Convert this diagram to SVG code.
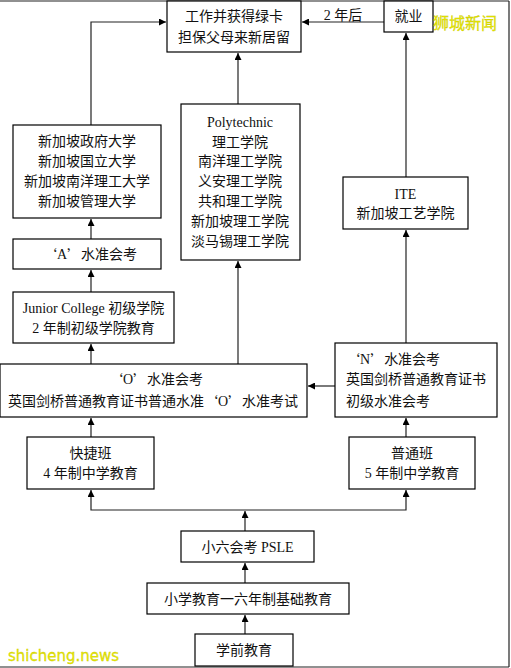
<svg xmlns="http://www.w3.org/2000/svg" width="511" height="668" viewBox="0 0 511 668">
<style>
.box{fill:#fff;stroke:#000;stroke-width:1.2}
.t{font-family:"Liberation Serif","Noto Sans CJK SC",serif;font-size:14px;fill:#111;text-anchor:middle;dominant-baseline:central}
.l{text-anchor:start}
.q{font-family:"Noto Sans CJK SC","Liberation Serif",sans-serif}
.c{fill:none;stroke:#222;stroke-width:1.2}
.wm{font-family:"DejaVu Sans","Noto Sans CJK SC",sans-serif;fill:#e8e800;stroke:#c8c800;stroke-width:0.3}
</style>
<defs>
<marker id="ah" viewBox="0 0 10 10" refX="10" refY="5" markerWidth="7" markerHeight="7" orient="auto" markerUnits="userSpaceOnUse">
<path d="M0,0 L10,5 L0,10 z" fill="#000"/>
</marker>
</defs>
<rect x="0" y="0" width="511" height="668" fill="#fff"/>
<g id="frame" class="c">
<line x1="0" y1="1" x2="509" y2="1"/>
<line x1="509" y1="1" x2="509" y2="667"/>
<line x1="0" y1="667" x2="509" y2="667"/>
</g>
<g id="connectors" class="c" marker-end="url(#ah)">
<path d="M384,22 L302,22"/>
<path d="M91,125 L91,22 L166,22"/>
<path d="M238,104 L238,53"/>
<path d="M406,177 L406,33"/>
<path d="M91,239 L91,219"/>
<path d="M91,292 L91,270"/>
<path d="M91,364 L91,344"/>
<path d="M238,364 L238,261"/>
<path d="M406,343 L406,230"/>
<path d="M335,386 L308,386"/>
<path d="M91,437 L91,418"/>
<path d="M406,437 L406,418"/>
<path d="M245,510 L91,510 L91,490"/>
<path d="M245,510 L406,510 L406,490"/>
<path d="M245,531 L245,511"/>
<path d="M245,583 L245,563"/>
<path d="M245,634 L245,615"/>
</g>
<text class="t" x="343" y="15">2 年后</text>
<g id="n-top"><rect class="box" x="167" y="1" width="134" height="51"/>
<text class="t" x="234" y="16">工作并获得绿卡</text><text class="t" x="234" y="37">担保父母来新居留</text></g>
<g id="n-job"><rect class="box" x="384" y="1" width="49" height="31"/>
<text class="t" x="408.5" y="16">就业</text></g>
<g id="n-uni"><rect class="box" x="13" y="125" width="148" height="93"/>
<text class="t" x="87" y="141">新加坡政府大学</text><text class="t" x="87" y="161">新加坡国立大学</text><text class="t" x="87" y="181">新加坡南洋理工大学</text><text class="t" x="87" y="201">新加坡管理大学</text></g>
<g id="n-a"><rect class="box" x="13" y="239" width="148" height="30"/>
<text class="t" x="90" y="254"><tspan class="q">‘</tspan>A<tspan class="q">’</tspan>水准会考</text></g>
<g id="n-poly"><rect class="box" x="181" y="104" width="119" height="156"/>
<text class="t" x="240" y="122">Polytechnic</text><text class="t" x="240" y="142">理工学院</text><text class="t" x="240" y="161">南洋理工学院</text><text class="t" x="240" y="181">义安理工学院</text><text class="t" x="240" y="201">共和理工学院</text><text class="t" x="240" y="221">新加坡理工学院</text><text class="t" x="240" y="241">淡马锡理工学院</text></g>
<g id="n-ite"><rect class="box" x="343" y="177" width="125" height="52"/>
<text class="t" x="405.5" y="194">ITE</text><text class="t" x="405.5" y="213">新加坡工艺学院</text></g>
<g id="n-jc"><rect class="box" x="13" y="292" width="161" height="51"/>
<text class="t" x="93.5" y="308">Junior College 初级学院</text><text class="t" x="93.5" y="328">2 年制初级学院教育</text></g>
<g id="n-o"><rect class="box" x="0" y="364" width="307" height="53"/>
<text class="t" x="156" y="379"><tspan class="q">‘</tspan>O<tspan class="q">’</tspan>水准会考</text><text class="t" x="153" y="401">英国剑桥普通教育证书普通水准<tspan class="q">‘</tspan>O<tspan class="q">’</tspan>水准考试</text></g>
<g id="n-n"><rect class="box" x="335" y="343" width="162" height="74"/>
<text class="t l" x="346" y="359"><tspan class="q">‘</tspan>N<tspan class="q">’</tspan>水准会考</text><text class="t l" x="346" y="379">英国剑桥普通教育证书</text><text class="t l" x="346" y="401">初级水准会考</text></g>
<g id="n-express"><rect class="box" x="27" y="437" width="127" height="52"/>
<text class="t" x="90.5" y="453">快捷班</text><text class="t" x="90.5" y="473">4 年制中学教育</text></g>
<g id="n-normal"><rect class="box" x="349" y="437" width="126" height="52"/>
<text class="t" x="412" y="453">普通班</text><text class="t" x="412" y="473">5 年制中学教育</text></g>
<g id="n-psle"><rect class="box" x="181" y="531" width="133" height="31"/>
<text class="t" x="247.5" y="547">小六会考 PSLE</text></g>
<g id="n-primary"><rect class="box" x="147" y="583" width="202" height="31"/>
<text class="t" x="248" y="599">小学教育一六年制基础教育</text></g>
<g id="n-pre"><rect class="box" x="195" y="634" width="98" height="32"/>
<text class="t" x="244" y="650">学前教育</text></g>
<text class="wm" x="433" y="29" font-size="16">狮城新闻</text>
<text class="wm" x="8" y="661" font-size="15">shicheng.news</text>
</svg>
